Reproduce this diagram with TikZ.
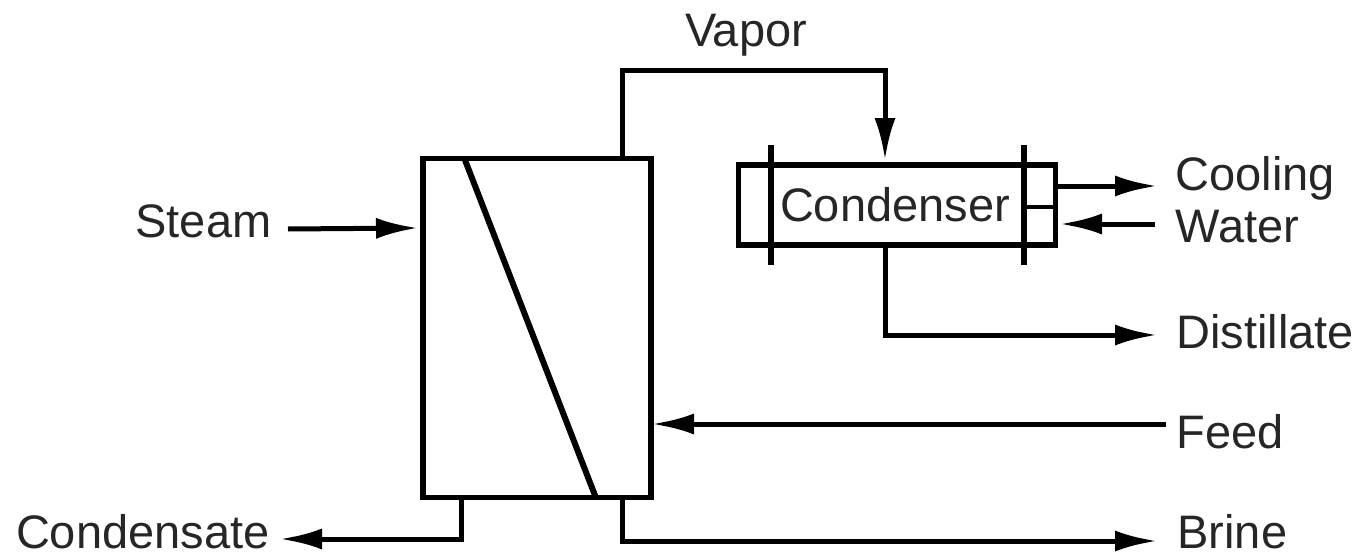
\documentclass[tikz,border=0pt]{standalone}
\usepackage{fontspec}
\setmainfont{Liberation Sans}
\usetikzlibrary{positioning}
\usetikzlibrary{arrows.meta}
\begin{document}
\begin{tikzpicture}[x=1pt,y=-1pt,line width=5pt,
  flow/.style ={-{Latex[length=42pt,width=21pt]}, line width=5pt},
  lbl/.style ={inner sep=0pt, font=\fontsize{47}{47}\selectfont, text=black!85}]
  \useasboundingbox (0,0) rectangle (1363,557);
  % vessel and condenser
  \node[draw, minimum width=228pt, minimum height=339pt, inner sep=0pt, line width=5.5pt] (E) at (537,328) {};
  \node[draw, minimum width=317pt, minimum height=80pt, inner sep=0pt, line width=5.5pt] (K) at (897,205) {};
  \coordinate (Etop) at (622,158);
  \coordinate (Ktop) at (885,160);
  \coordinate (Kbot) at (885,246);
  \coordinate (Vtop1) at (622,70);
  \coordinate (Vtop2) at (885,70);
  % labels
  \node[lbl, anchor=base west] (Steam) at (133,237) {Steam};
  \node[lbl, anchor=base east] (Cond) at (272,548) {Condensate};
  \node[lbl, anchor=base] (Vapor) at (746,46) {Vapor};
  \node[lbl, anchor=base] (Cname) at (895,221) {Condenser};
  \node[lbl, anchor=base west] (Cool) at (1173,190) {Cooling};
  \node[lbl, anchor=base west] (Water) at (1173,242) {Water};
  \node[lbl, anchor=base west] (Dist) at (1174,348) {Distillate};
  \node[lbl, anchor=base west] (Feed) at (1174,448) {Feed};
  \node[lbl, anchor=base west] (Brine) at (1175,548) {Brine};
  % inner lines
  \coordinate (Da) at (465,160);
  \coordinate (Db) at (596,498);
  \draw[line width=6pt] (Da) -- (Db);
  \coordinate (Ta) at (771,145);
  \coordinate (Tb) at (771,265);
  \coordinate (Tc) at (1024,145);
  \coordinate (Td) at (1024,265);
  \draw[line width=6pt] (Ta) -- (Tb);
  \draw[line width=6pt] (Tc) -- (Td);
  \coordinate (Pa) at (1024,207);
  \coordinate (Pb) at (1056,207);
  \draw[line width=4pt] (Pa) -- (Pb);
  % streams
  \coordinate (Sa) at (288,229);
  \coordinate (Sb) at (418,228);
  \draw[flow] (Sa) -- (Sb);
  \draw[flow] (Etop) -- (Vtop1) -- (Vtop2) -- (Ktop);
  \coordinate (Ca) at (1056,186);
  \coordinate (Cb) at (1157,186);
  \draw[flow] (Ca) -- (Cb);
  \coordinate (Wa) at (1155,224);
  \coordinate (Wb) at (1060,224);
  \draw[flow] (Wa) -- (Wb);
  \coordinate (Dc) at (885,335);
  \coordinate (Dd) at (1157,335);
  \draw[flow] (Kbot) -- (Dc) -- (Dd);
  \coordinate (Fa) at (1166,424);
  \coordinate (Fb) at (652,424);
  \draw[flow] (Fa) -- (Fb);
  \coordinate (Ba) at (622,498);
  \coordinate (Bb) at (622,541);
  \coordinate (Bc) at (1157,541);
  \draw[flow] (Ba) -- (Bb) -- (Bc);
  \coordinate (Na) at (461,498);
  \coordinate (Nb) at (461,539);
  \coordinate (Nc) at (280,539);
  \draw[flow] (Na) -- (Nb) -- (Nc);
\end{tikzpicture}
\end{document}
